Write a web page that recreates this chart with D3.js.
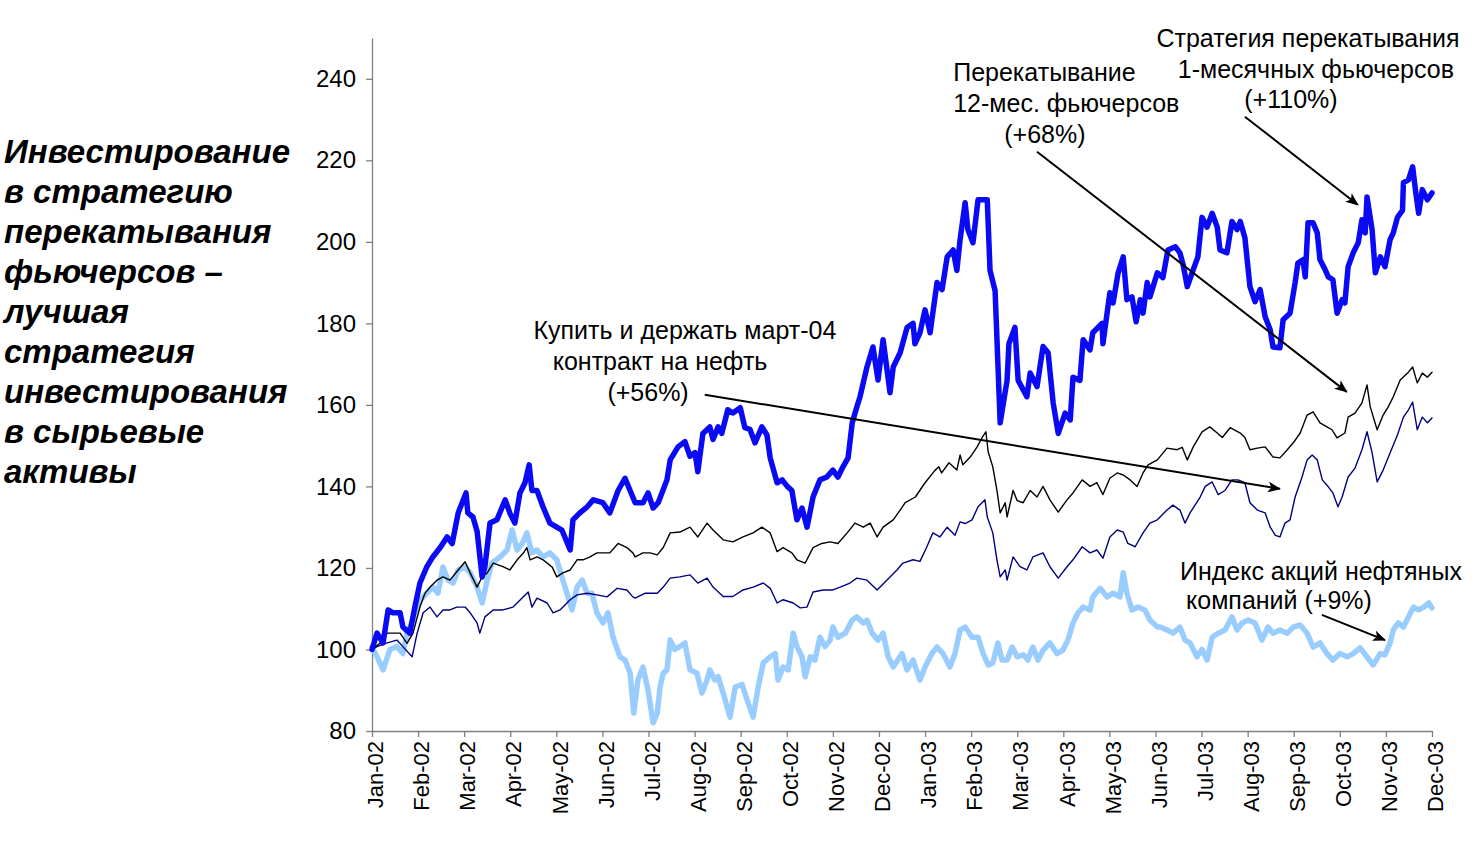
<!DOCTYPE html>
<html>
<head>
<meta charset="utf-8">
<script src="https://cdn.jsdelivr.net/npm/d3@7"></script>
<style>
  body { margin: 0; background: #fff; }
  text { font-family: Arial, "Liberation Sans", sans-serif; }
</style>
</head>
<body>
<svg id="chart" width="1475" height="848"></svg>
<script>
// подписи месяцев (0 = Jan-02 ... 23 = Dec-03)
var monthLabels = ["Jan-02", "Feb-02", "Mar-02", "Apr-02", "May-02", "Jun-02", "Jul-02", "Aug-02",
  "Sep-02", "Oct-02", "Nov-02", "Dec-02", "Jan-03", "Feb-03", "Mar-03", "Apr-03", "May-03",
  "Jun-03", "Jul-03", "Aug-03", "Sep-03", "Oct-03", "Nov-03", "Dec-03"];
var yTicks = [80, 100, 120, 140, 160, 180, 200, 220, 240];

var titleLines = ["Инвестирование", "в стратегию", "перекатывания", "фьючерсов –", "лучшая",
  "стратегия", "инвестирования", "в сырьевые", "активы"];

// [месяц от начала 2002, значение индекса]
// стратегия перекатывания 1-месячных фьючерсов
var roll1m = [[0,100],[0.11,104],[0.24,101.6],[0.35,109.7],[0.46,109],[0.61,109],[0.67,105.5],[0.82,104],
  [0.93,110.4],[1.04,116.3],[1.19,120.3],[1.32,122.7],[1.48,125],[1.63,127.6],[1.74,126],[1.87,133.5],
  [2.04,138.4],[2.08,133.5],[2.19,132.5],[2.28,129],[2.39,117.8],[2.45,120.3],[2.56,131],[2.71,131.8],
  [2.89,136.7],[2.99,133.5],[3.10,131],[3.21,138.4],[3.32,140.9],[3.41,145.3],[3.47,139],[3.58,139],
  [3.71,135],[3.86,131],[4.01,130],[4.12,129.3],[4.30,124.4],[4.36,131.8],[4.51,133.5],[4.67,135],
  [4.80,136.7],[5.01,136],[5.16,133.5],[5.34,139],[5.49,142],[5.60,139],[5.71,136],[5.88,136],
  [5.99,138.4],[6.10,134.7],[6.21,136],[6.40,141.6],[6.47,146.5],[6.64,149.7],[6.79,151],[6.90,147.4],
  [7.01,148.3],[7.07,143.6],[7.18,153],[7.33,154.6],[7.40,151.5],[7.51,154.6],[7.59,153],[7.72,158.8],
  [7.83,158],[7.99,159.3],[8.09,154.4],[8.20,154],[8.31,150.7],[8.46,154.6],[8.57,152.6],[8.64,147],
  [8.79,140.9],[8.90,141.6],[9.01,140],[9.11,139],[9.22,131.8],[9.33,134.7],[9.44,130],[9.57,137.4],
  [9.72,141.6],[9.87,142.3],[10.00,144],[10.11,142.3],[10.22,144.8],[10.33,147],[10.42,155.6],[10.52,159.5],
  [10.59,162],[10.74,169.3],[10.87,174.2],[10.98,166.1],[11.09,176],[11.24,163],[11.31,169.3],[11.46,172.8],
  [11.61,179],[11.74,180],[11.78,175],[11.89,177.7],[12.00,183.3],[12.11,177.7],[12.26,190],[12.37,188.3],
  [12.48,196.3],[12.61,198],[12.69,193],[12.76,200.5],[12.87,209.6],[12.93,203],[13.04,199.8],[13.15,210.3],
  [13.35,210.3],[13.41,193],[13.52,188],[13.63,155.6],[13.78,166],[13.82,175],[13.95,179],[14.02,166],
  [14.21,162],[14.28,167.8],[14.43,164.5],[14.56,174.3],[14.67,172.8],[14.78,160.5],[14.89,153],[15.04,158],
  [15.15,156.3],[15.21,166.8],[15.36,166],[15.43,176],[15.58,173.5],[15.64,177.7],[15.84,180],[15.86,175],
  [16.01,187.5],[16.08,185],[16.19,192.4],[16.30,196.3],[16.38,185.8],[16.49,186.5],[16.58,180.4],[16.67,185.8],
  [16.73,182.5],[16.82,190],[16.88,186.5],[17.04,192.4],[17.16,191.2],[17.27,198],[17.43,198.8],[17.53,197.3],
  [17.60,194.4],[17.69,189],[17.82,193.2],[17.92,196.3],[18.01,206],[18.12,203.6],[18.23,207],[18.34,203.6],
  [18.40,198],[18.55,197.3],[18.66,205],[18.77,203],[18.84,205],[18.94,201],[19.05,189],[19.16,185.3],
  [19.27,188.3],[19.38,181.6],[19.49,178.4],[19.55,174.2],[19.70,174],[19.77,180.9],[19.92,182.5],[20.03,190],
  [20.09,194.8],[20.20,195.6],[20.25,191.4],[20.31,204.7],[20.42,204.7],[20.51,202.2],[20.57,195.6],[20.68,193.2],
  [20.75,191.4],[20.85,190.7],[20.94,182.5],[21.05,185.8],[21.11,185],[21.18,193.9],[21.29,197.3],[21.40,199.8],
  [21.48,205.4],[21.55,202.2],[21.59,211],[21.70,203],[21.77,192.4],[21.88,196.3],[21.98,193.9],[22.09,200.5],
  [22.16,202.2],[22.25,206],[22.36,207.7],[22.38,214.5],[22.49,215.2],[22.58,218.4],[22.64,212.8],[22.71,207],
  [22.79,212.8],[22.90,210.3],[23.00,212]];

// перекатывание 12-месячных фьючерсов
var roll12m = [[0,100],[0.17,101.5],[0.33,104],[0.46,104],[0.61,104],[0.76,101.5],[0.89,104],[1.04,110.4],
  [1.15,113.8],[1.26,115.3],[1.41,117],[1.54,117.8],[1.69,117],[1.87,119.5],[2.02,121.5],[2.13,118.8],
  [2.28,115.3],[2.39,117.8],[2.50,118.8],[2.63,121.2],[2.84,120.3],[2.99,119.5],[3.15,122],[3.28,123.6],
  [3.36,125],[3.43,122],[3.58,122.7],[3.71,122],[3.91,120.2],[4.01,117.8],[4.14,118.8],[4.30,119.5],
  [4.45,122],[4.58,122],[4.73,122.7],[4.88,123.7],[5.01,123.7],[5.16,123.7],[5.34,126],[5.53,125],
  [5.66,123.7],[5.71,122.7],[5.88,123.7],[6.03,123.7],[6.19,123.2],[6.32,125],[6.47,128.6],[6.68,128.8],
  [6.90,130],[7.07,127.6],[7.27,131],[7.40,129.3],[7.62,126.9],[7.83,126.4],[8.05,127.6],[8.27,128.6],
  [8.46,130],[8.64,128.6],[8.79,124],[8.92,125],[9.11,123.7],[9.22,122],[9.40,121.2],[9.57,125],
  [9.76,126],[9.94,126.4],[10.11,126],[10.31,128.6],[10.48,131],[10.66,130],[10.81,131],[10.96,127.6],
  [11.09,130],[11.31,131.8],[11.46,134.2],[11.57,136],[11.79,137.4],[12.00,140.9],[12.22,144],[12.30,144.8],
  [12.36,143.3],[12.52,145.8],[12.69,144],[12.76,147.7],[12.82,145.3],[12.98,147.2],[13.13,149.7],[13.24,152],
  [13.32,153.4],[13.37,148.5],[13.47,144.8],[13.56,139],[13.63,133.5],[13.74,136],[13.78,132.5],[13.91,139],
  [14.00,136.5],[14.13,136],[14.28,139],[14.43,137.4],[14.56,140],[14.71,136.7],[14.89,133.7],[15.08,136.7],
  [15.21,138.4],[15.41,141.6],[15.58,140],[15.73,140.9],[15.86,138],[16.01,142],[16.17,143.3],[16.30,142.8],
  [16.45,141.6],[16.60,140],[16.73,143.3],[16.84,145.3],[17.04,146.5],[17.25,149.4],[17.47,149],[17.58,149.6],
  [17.69,146.5],[17.82,149.7],[18.01,153.4],[18.18,154.6],[18.34,153.1],[18.45,152],[18.62,154.4],[18.84,153.1],
  [18.94,152],[19.05,149],[19.21,149.4],[19.38,149.7],[19.55,147.2],[19.70,147],[19.86,149],[19.99,150.7],
  [20.14,153.1],[20.29,157.5],[20.42,158.3],[20.57,155.6],[20.72,154.6],[20.83,153.9],[20.94,151.9],[21.11,153.1],
  [21.18,157],[21.33,158],[21.48,160.5],[21.59,164.9],[21.66,159.5],[21.81,153.9],[21.94,157.5],[22.05,159.5],
  [22.16,162],[22.31,166.1],[22.47,167.8],[22.58,169.3],[22.68,165.4],[22.79,167.8],[22.90,166.8],[23.00,168]];

// купить и держать мартовский контракт 2004 г.
var buyHold = [[0,100],[0.11,100.7],[0.33,101.6],[0.54,102.3],[0.67,100.7],[0.87,98.2],[0.98,104],[1.11,109],
  [1.26,110.4],[1.41,108],[1.54,109.7],[1.69,109.7],[1.84,110.4],[2.02,110.4],[2.13,109],[2.28,106.5],
  [2.34,104],[2.45,108],[2.63,109.7],[2.84,109.7],[3.06,110.4],[3.28,112.9],[3.39,114.1],[3.47,110.4],
  [3.58,112.6],[3.80,111.4],[3.93,109],[4.08,109.7],[4.30,112.2],[4.45,113.4],[4.67,113.8],[4.88,113.4],
  [5.10,112.9],[5.32,115],[5.53,114.6],[5.66,112.9],[5.71,112.6],[5.93,113.8],[6.19,113.8],[6.32,115.3],
  [6.47,117.5],[6.68,117.8],[6.90,118.3],[7.07,116.3],[7.27,117.5],[7.40,115.3],[7.62,113],[7.83,113],
  [8.05,114.6],[8.27,115.3],[8.49,116.3],[8.64,115],[8.79,111.4],[8.92,112.2],[9.14,111.4],[9.29,110.2],
  [9.44,110.4],[9.57,114.1],[9.79,114.6],[10.00,114.6],[10.16,115.3],[10.37,116.3],[10.52,117.5],[10.74,117],
  [10.96,114.6],[11.17,117],[11.39,119.5],[11.52,121.2],[11.74,122],[11.89,121.6],[12.04,125.2],[12.17,128.6],
  [12.32,127.6],[12.48,130],[12.65,128],[12.76,131.3],[12.87,130.9],[13.02,131.8],[13.15,135],[13.30,136.7],
  [13.35,132.5],[13.47,128.6],[13.56,122],[13.63,117.8],[13.74,119.5],[13.78,117],[13.91,122.7],[14.06,120.3],
  [14.21,119.5],[14.34,122.7],[14.56,123.7],[14.71,120.3],[14.89,117.5],[15.08,120.3],[15.21,122],[15.41,125.2],
  [15.58,123.7],[15.73,124.4],[15.86,122.4],[16.01,127.6],[16.17,129.3],[16.30,128.8],[16.40,126],[16.56,125.2],
  [16.73,128.6],[16.88,131],[17.04,131.8],[17.25,134.2],[17.38,135.4],[17.53,134.2],[17.64,131],[17.75,133.5],
  [17.97,137.4],[18.08,140],[18.23,141.1],[18.36,138],[18.51,139],[18.66,141.6],[18.79,141.6],[18.94,140.9],
  [19.05,136],[19.21,134.2],[19.38,133.5],[19.49,130],[19.60,128],[19.70,127.6],[19.81,131],[19.92,131.8],
  [20.03,137.4],[20.18,142.3],[20.29,146.5],[20.40,147.7],[20.51,146.5],[20.62,141.6],[20.75,139.9],[20.85,138.4],
  [20.96,135],[21.05,137.4],[21.18,142.3],[21.33,144.5],[21.48,149],[21.59,153.4],[21.70,148.3],[21.81,141.1],
  [21.94,144],[22.09,148.2],[22.25,152.6],[22.38,157],[22.49,158.8],[22.58,160.7],[22.68,153.9],[22.79,157],
  [22.90,155.6],[23.00,156.8]];

// индекс акций нефтяных компаний
var oilStocks = [[0,100.5],[0.11,98.2],[0.24,95],[0.39,100],[0.54,100.7],[0.67,99],[0.76,104],[0.89,107.2],
  [1.04,112],[1.19,113.8],[1.32,115.3],[1.43,113.8],[1.54,120.2],[1.65,117],[1.76,116.3],[1.87,119.5],
  [2.02,120.2],[2.13,118.8],[2.28,115.3],[2.39,111.4],[2.50,117],[2.60,121.2],[2.78,122.7],[2.93,124.4],
  [3.04,129.3],[3.15,124.4],[3.26,126],[3.36,128.6],[3.47,123.7],[3.58,124.4],[3.71,122.7],[3.86,123.7],
  [4.01,122],[4.12,117.8],[4.23,113.8],[4.34,109.7],[4.45,115.3],[4.56,117],[4.67,113.8],[4.77,113.8],
  [4.88,109],[5.01,106.5],[5.12,109],[5.23,103],[5.38,98.2],[5.49,97.4],[5.60,94.2],[5.68,84.4],
  [5.77,92.5],[5.88,95.7],[5.99,90],[6.10,82],[6.19,84.4],[6.25,90.8],[6.32,94.2],[6.40,95],
  [6.47,102.3],[6.57,100],[6.68,100.7],[6.79,101.6],[6.90,95],[7.05,94.2],[7.16,89.3],[7.27,92.5],
  [7.33,95],[7.44,92.5],[7.51,93.3],[7.62,89.3],[7.77,83.4],[7.88,90.8],[8.03,91.4],[8.14,87.6],
  [8.27,83.4],[8.38,90.8],[8.49,96.7],[8.64,98.2],[8.75,99],[8.81,92.5],[8.92,95.7],[9.03,95],
  [9.14,104],[9.22,100.7],[9.33,98.2],[9.40,93.3],[9.51,98.2],[9.61,97.4],[9.72,103],[9.83,100.7],
  [9.94,102.3],[10.00,105.5],[10.11,103],[10.27,104],[10.42,107.2],[10.52,108],[10.66,106.5],[10.74,107.2],
  [10.85,104],[10.98,102.3],[11.09,104],[11.20,98.2],[11.31,95.7],[11.41,97.4],[11.50,99],[11.61,95],
  [11.74,97.4],[11.89,92.5],[12.00,95.7],[12.15,99],[12.26,100.6],[12.39,99],[12.54,95.7],[12.65,99],
  [12.76,104.8],[12.87,105.5],[13.02,103],[13.15,103],[13.26,99],[13.37,96.2],[13.47,96.7],[13.58,101.6],
  [13.67,97.4],[13.78,97.4],[13.89,100.6],[14.00,98.2],[14.13,98.7],[14.23,97.4],[14.34,100.6],[14.45,97.4],
  [14.56,99.8],[14.71,101.6],[14.86,99],[14.99,99.8],[15.10,102.3],[15.21,106.5],[15.32,109],[15.43,110.4],
  [15.58,109.7],[15.64,112.9],[15.80,115],[15.95,112.9],[16.08,113.8],[16.23,112.9],[16.30,118.8],[16.38,113.8],
  [16.49,109.7],[16.62,110.4],[16.77,109.7],[16.88,107.2],[17.04,105.5],[17.10,105.5],[17.25,104.8],[17.38,104],
  [17.53,105.5],[17.64,102.3],[17.75,101.6],[17.90,98.2],[18.01,100],[18.12,97.4],[18.23,103],[18.36,104],
  [18.51,104.8],[18.66,108],[18.77,104.8],[18.88,106.5],[19.01,107.2],[19.16,106.5],[19.31,102.3],[19.44,105.5],
  [19.55,104],[19.70,104.8],[19.86,104],[19.99,105.5],[20.14,106],[20.29,104],[20.42,100.6],[20.57,101.6],
  [20.72,99],[20.85,97.4],[21.00,99],[21.16,98.2],[21.29,99],[21.44,100.4],[21.59,98.2],[21.72,96.2],
  [21.88,99],[21.98,98.7],[22.09,101.6],[22.16,104.8],[22.27,106.5],[22.38,105.5],[22.49,108],[22.60,110.4],
  [22.71,109.7],[22.82,110.4],[22.93,111.4],[23.00,110.2]];

// подписи и стрелки (в координатах данных)
var notes = [
  { lines: ["Стратегия перекатывания", "1-месячных фьючерсов", "(+110%)"], xs: [20.31, 20.48, 19.94], ys: [247.9, 240.3, 232.9], anchor: "middle" },
  { lines: ["Перекатывание", "12-мес. фьючерсов", "(+68%)"], xs: [12.61, 12.61, 14.6], ys: [239.5, 231.9, 224.3], anchor: ["start", "start", "middle"] },
  { lines: ["Купить и держать март-04", "контракт на нефть", "(+56%)"], xs: [6.79, 6.25, 5.99], ys: [176.2, 168.6, 161.0], anchor: "middle" },
  { lines: ["Индекс акций нефтяных", "компаний (+9%)"], xs: [20.59, 19.68], ys: [117.1, 109.9], anchor: "middle" }
];
var arrows = [
  [[18.94, 230.7], [21.39, 209.1]],
  [[14.43, 222.1], [21.15, 163.2]],
  [[7.22, 162.5], [19.70, 139.4]],
  [[20.61, 108.5], [21.98, 102.3]]
];

var svg = d3.select("#chart");
var x = d3.scaleLinear().domain([0, 23]).range([372, 1432]);
var y = d3.scaleLinear().domain([80, 250]).range([731, 38]);

// заголовок слева
svg.append("g")
  .selectAll("text")
  .data(titleLines)
  .enter()
  .append("text")
  .attr("x", 4)
  .attr("y", function(d, i) { return 163 + i * 40; })
  .attr("font-size", "33px")
  .attr("font-weight", "bold")
  .attr("font-style", "italic")
  .attr("fill", "#000")
  .text(function(d) { return d; });

// оси
var yAxis = svg.append("g")
  .attr("transform", "translate(" + x(0) + ",0)")
  .call(d3.axisLeft(y).tickValues(yTicks).tickSize(6).tickSizeOuter(0).tickPadding(10));
yAxis.selectAll("text").attr("font-size", "24px").attr("fill", "#000");

var xAxis = svg.append("g")
  .attr("transform", "translate(0," + y(80) + ")")
  .call(d3.axisBottom(x).tickValues(d3.range(monthLabels.length)).tickSize(6).tickSizeOuter(0)
    .tickFormat(function(i) { return monthLabels[i]; }));
xAxis.selectAll("text")
  .attr("font-size", "22px")
  .attr("fill", "#000")
  .attr("transform", "rotate(-90)")
  .attr("x", -10)
  .attr("y", 3)
  .attr("dy", "0.35em")
  .style("text-anchor", "end");

svg.selectAll(".domain").attr("stroke", "#808080").attr("stroke-width", 1.3);
svg.selectAll(".tick line").attr("stroke", "#808080").attr("stroke-width", 1.3);

// линии серий
var line = d3.line()
  .x(function(d) { return x(d[0]); })
  .y(function(d) { return y(d[1]); });

var series = [
  { data: oilStocks, color: "#99ccff", width: 5.5 },
  { data: buyHold, color: "#000080", width: 1.4 },
  { data: roll12m, color: "#000000", width: 1.4 },
  { data: roll1m, color: "#0a0af5", width: 5.5 }
];

svg.append("g")
  .selectAll("path")
  .data(series)
  .enter()
  .append("path")
  .attr("d", function(d) { return line(d.data); })
  .attr("fill", "none")
  .attr("stroke", function(d) { return d.color; })
  .attr("stroke-width", function(d) { return d.width; })
  .attr("stroke-linejoin", "round")
  .attr("stroke-linecap", "round");

// стрелки
svg.append("defs").append("marker")
  .attr("id", "arrow")
  .attr("viewBox", "0 0 12 10")
  .attr("refX", 11)
  .attr("refY", 5)
  .attr("markerWidth", 13)
  .attr("markerHeight", 11)
  .attr("markerUnits", "userSpaceOnUse")
  .attr("orient", "auto")
  .append("path")
  .attr("d", "M0,0 L12,5 L0,10 L3,5 Z")
  .attr("fill", "#000");

svg.append("g")
  .selectAll("line")
  .data(arrows)
  .enter()
  .append("line")
  .attr("x1", function(d) { return x(d[0][0]); })
  .attr("y1", function(d) { return y(d[0][1]); })
  .attr("x2", function(d) { return x(d[1][0]); })
  .attr("y2", function(d) { return y(d[1][1]); })
  .attr("stroke", "#000")
  .attr("stroke-width", 2)
  .attr("marker-end", "url(#arrow)");

// подписи
notes.forEach(function(n) {
  svg.append("g")
    .selectAll("text")
    .data(n.lines)
    .enter()
    .append("text")
    .attr("x", function(d, i) { return x(n.xs[i]); })
    .attr("y", function(d, i) { return y(n.ys[i]); })
    .attr("text-anchor", function(d, i) { return Array.isArray(n.anchor) ? n.anchor[i] : n.anchor; })
    .attr("font-size", "25px")
    .attr("fill", "#000")
    .text(function(d) { return d; });
});
</script>
</body>
</html>
